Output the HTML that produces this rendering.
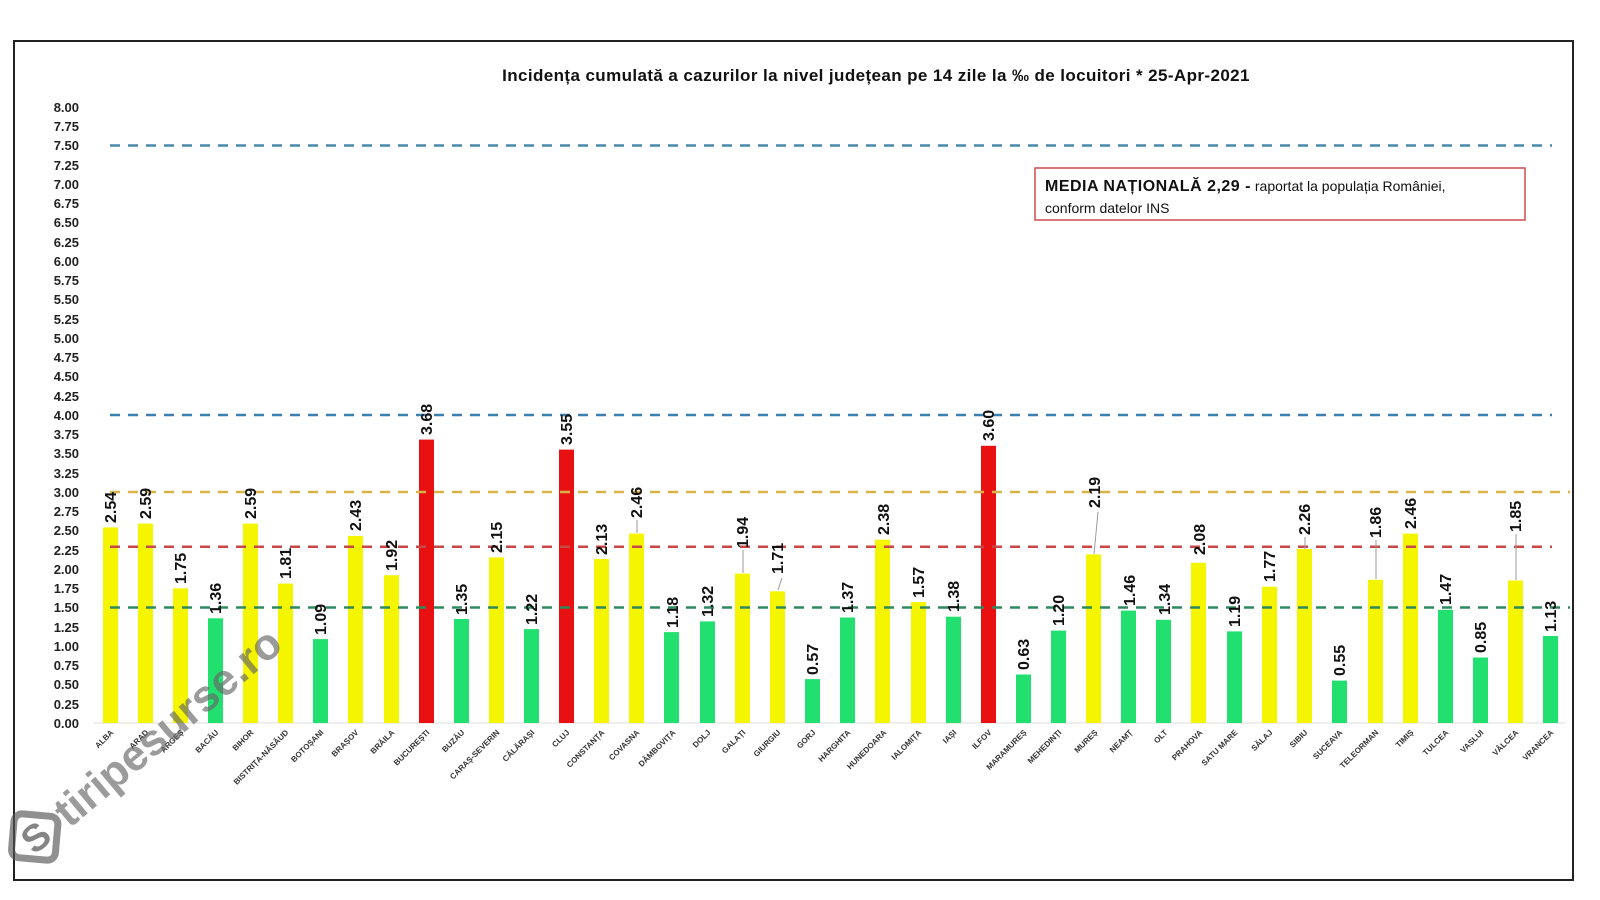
<!DOCTYPE html>
<html><head><meta charset="utf-8"><style>
html,body{margin:0;padding:0;background:#fff;}
svg{display:block;font-family:"Liberation Sans",sans-serif;}
.yl{font-size:13px;font-weight:bold;fill:#222;text-anchor:end}
.v{font-size:16px;font-weight:bold;fill:#111}
.c{font-size:8px;font-weight:bold;fill:#333;text-anchor:end}
</style></head><body>
<svg width="1600" height="900" viewBox="0 0 1600 900">
<rect x="14" y="41" width="1559" height="839" fill="#fff" stroke="#222" stroke-width="2"/>
<text x="876" y="81" font-size="17" font-weight="bold" text-anchor="middle" fill="#111" letter-spacing="0.4">Incidența cumulată a cazurilor la nivel județean pe 14 zile la ‰ de locuitori *   25-Apr-2021</text>
<g>
<text class="yl" x="79" y="112">8.00</text><text class="yl" x="79" y="131">7.75</text><text class="yl" x="79" y="150">7.50</text><text class="yl" x="79" y="170">7.25</text><text class="yl" x="79" y="189">7.00</text><text class="yl" x="79" y="208">6.75</text><text class="yl" x="79" y="227">6.50</text><text class="yl" x="79" y="247">6.25</text><text class="yl" x="79" y="266">6.00</text><text class="yl" x="79" y="285">5.75</text><text class="yl" x="79" y="304">5.50</text><text class="yl" x="79" y="324">5.25</text><text class="yl" x="79" y="343">5.00</text><text class="yl" x="79" y="362">4.75</text><text class="yl" x="79" y="381">4.50</text><text class="yl" x="79" y="401">4.25</text><text class="yl" x="79" y="420">4.00</text><text class="yl" x="79" y="439">3.75</text><text class="yl" x="79" y="458">3.50</text><text class="yl" x="79" y="478">3.25</text><text class="yl" x="79" y="497">3.00</text><text class="yl" x="79" y="516">2.75</text><text class="yl" x="79" y="535">2.50</text><text class="yl" x="79" y="555">2.25</text><text class="yl" x="79" y="574">2.00</text><text class="yl" x="79" y="593">1.75</text><text class="yl" x="79" y="612">1.50</text><text class="yl" x="79" y="632">1.25</text><text class="yl" x="79" y="651">1.00</text><text class="yl" x="79" y="670">0.75</text><text class="yl" x="79" y="689">0.50</text><text class="yl" x="79" y="709">0.25</text><text class="yl" x="79" y="728">0.00</text>
</g>
<line x1="94" y1="723" x2="1565" y2="723" stroke="#ddd" stroke-width="1"/>
<g fill="#f5f500">
<rect x="103" y="527.4" width="15" height="195.6"/><rect x="138" y="523.6" width="15" height="199.4"/><rect x="173" y="588.3" width="15" height="134.7"/>
<rect x="243" y="523.6" width="15" height="199.4"/><rect x="278" y="583.6" width="15" height="139.4"/><rect x="348" y="535.9" width="15" height="187.1"/>
<rect x="384" y="575.2" width="15" height="147.8"/><rect x="489" y="557.4" width="15" height="165.6"/><rect x="594" y="559" width="15" height="164"/>
<rect x="629" y="533.6" width="15" height="189.4"/><rect x="735" y="573.6" width="15" height="149.4"/><rect x="770" y="591.3" width="15" height="131.7"/>
<rect x="875" y="539.7" width="15" height="183.3"/><rect x="911" y="602.1" width="15" height="120.9"/><rect x="1086" y="554.4" width="15" height="168.6"/>
<rect x="1191" y="562.8" width="15" height="160.2"/><rect x="1262" y="586.7" width="15" height="136.3"/><rect x="1297" y="549" width="15" height="174"/>
<rect x="1368" y="579.8" width="15" height="143.2"/><rect x="1403" y="533.6" width="15" height="189.4"/><rect x="1508" y="580.5" width="15" height="142.5"/>
</g>
<g fill="#22e070">
<rect x="208" y="618.3" width="15" height="104.7"/><rect x="313" y="639.1" width="15" height="83.9"/><rect x="454" y="619" width="15" height="104"/>
<rect x="524" y="629.1" width="15" height="93.9"/><rect x="664" y="632.1" width="15" height="90.9"/><rect x="700" y="621.4" width="15" height="101.6"/>
<rect x="805" y="679.1" width="15" height="43.9"/><rect x="840" y="617.5" width="15" height="105.5"/><rect x="946" y="616.7" width="15" height="106.3"/>
<rect x="1016" y="674.5" width="15" height="48.5"/><rect x="1051" y="630.6" width="15" height="92.4"/><rect x="1121" y="610.6" width="15" height="112.4"/>
<rect x="1156" y="619.8" width="15" height="103.2"/><rect x="1227" y="631.4" width="15" height="91.6"/><rect x="1332" y="680.6" width="15" height="42.4"/>
<rect x="1438" y="609.8" width="15" height="113.2"/><rect x="1473" y="657.5" width="15" height="65.5"/><rect x="1543" y="636" width="15" height="87"/>
</g>
<g fill="#e81010">
<rect x="419" y="439.6" width="15" height="283.4"/><rect x="559" y="449.6" width="15" height="273.4"/><rect x="981" y="445.8" width="15" height="277.2"/>
</g>
<g stroke-width="2.5" stroke-dasharray="10,8" fill="none">
<line x1="110" y1="145.5" x2="1552" y2="145.5" stroke="#4a8aa8"/>
<line x1="110" y1="415" x2="1552" y2="415" stroke="#3a80b0"/>
<line x1="110" y1="492" x2="1570" y2="492" stroke="#d8b448"/>
<line x1="110" y1="546.7" x2="1552" y2="546.7" stroke="#c84848"/>
<line x1="110" y1="607.5" x2="1570" y2="607.5" stroke="#2e8a5e"/>
</g>
<g stroke="#999" stroke-width="1">
<line x1="637" y1="533" x2="637" y2="520"/><line x1="743" y1="573" x2="743" y2="550"/><line x1="778" y1="590" x2="782" y2="578"/>
<line x1="1094" y1="554" x2="1098" y2="512"/><line x1="1305" y1="549" x2="1305" y2="537"/><line x1="1376" y1="579" x2="1376" y2="540"/><line x1="1516" y1="580" x2="1516" y2="534"/>
</g>
<g class="v">
<text transform="translate(116,523) rotate(-90)">2.54</text>
<text transform="translate(151,519) rotate(-90)">2.59</text>
<text transform="translate(186,584) rotate(-90)">1.75</text>
<text transform="translate(221,614) rotate(-90)">1.36</text>
<text transform="translate(256,519) rotate(-90)">2.59</text>
<text transform="translate(291,579) rotate(-90)">1.81</text>
<text transform="translate(326,635) rotate(-90)">1.09</text>
<text transform="translate(361,531) rotate(-90)">2.43</text>
<text transform="translate(397,571) rotate(-90)">1.92</text>
<text transform="translate(432,435) rotate(-90)">3.68</text>
<text transform="translate(467,615) rotate(-90)">1.35</text>
<text transform="translate(502,553) rotate(-90)">2.15</text>
<text transform="translate(537,625) rotate(-90)">1.22</text>
<text transform="translate(572,445) rotate(-90)">3.55</text>
<text transform="translate(607,555) rotate(-90)">2.13</text>
<text transform="translate(642,518) rotate(-90)">2.46</text>
<text transform="translate(678,628) rotate(-90)">1.18</text>
<text transform="translate(713,617) rotate(-90)">1.32</text>
<text transform="translate(748,548) rotate(-90)">1.94</text>
<text transform="translate(783,574) rotate(-90)">1.71</text>
<text transform="translate(818,675) rotate(-90)">0.57</text>
<text transform="translate(853,613) rotate(-90)">1.37</text>
<text transform="translate(889,535) rotate(-90)">2.38</text>
<text transform="translate(924,598) rotate(-90)">1.57</text>
<text transform="translate(959,612) rotate(-90)">1.38</text>
<text transform="translate(994,441) rotate(-90)">3.60</text>
<text transform="translate(1029,670) rotate(-90)">0.63</text>
<text transform="translate(1064,626) rotate(-90)">1.20</text>
<text transform="translate(1100,508) rotate(-90)">2.19</text>
<text transform="translate(1135,606) rotate(-90)">1.46</text>
<text transform="translate(1170,615) rotate(-90)">1.34</text>
<text transform="translate(1205,555) rotate(-90)">2.08</text>
<text transform="translate(1240,627) rotate(-90)">1.19</text>
<text transform="translate(1275,582) rotate(-90)">1.77</text>
<text transform="translate(1310,535) rotate(-90)">2.26</text>
<text transform="translate(1345,676) rotate(-90)">0.55</text>
<text transform="translate(1381,538) rotate(-90)">1.86</text>
<text transform="translate(1416,529) rotate(-90)">2.46</text>
<text transform="translate(1451,605) rotate(-90)">1.47</text>
<text transform="translate(1486,653) rotate(-90)">0.85</text>
<text transform="translate(1521,532) rotate(-90)">1.85</text>
<text transform="translate(1556,632) rotate(-90)">1.13</text>
</g>
<g class="c">
<text transform="translate(114,733) rotate(-45)">ALBA</text>
<text transform="translate(149,733) rotate(-45)">ARAD</text>
<text transform="translate(184,733) rotate(-45)">ARGEȘ</text>
<text transform="translate(219,733) rotate(-45)">BACĂU</text>
<text transform="translate(254,733) rotate(-45)">BIHOR</text>
<text transform="translate(289,733) rotate(-45)">BISTRIȚA-NĂSĂUD</text>
<text transform="translate(324,733) rotate(-45)">BOTOȘANI</text>
<text transform="translate(359,733) rotate(-45)">BRAȘOV</text>
<text transform="translate(395,733) rotate(-45)">BRĂILA</text>
<text transform="translate(430,733) rotate(-45)">BUCUREȘTI</text>
<text transform="translate(465,733) rotate(-45)">BUZĂU</text>
<text transform="translate(500,733) rotate(-45)">CARAȘ-SEVERIN</text>
<text transform="translate(535,733) rotate(-45)">CĂLĂRAȘI</text>
<text transform="translate(570,733) rotate(-45)">CLUJ</text>
<text transform="translate(605,733) rotate(-45)">CONSTANȚA</text>
<text transform="translate(640,733) rotate(-45)">COVASNA</text>
<text transform="translate(676,733) rotate(-45)">DÂMBOVIȚA</text>
<text transform="translate(711,733) rotate(-45)">DOLJ</text>
<text transform="translate(746,733) rotate(-45)">GALAȚI</text>
<text transform="translate(781,733) rotate(-45)">GIURGIU</text>
<text transform="translate(816,733) rotate(-45)">GORJ</text>
<text transform="translate(851,733) rotate(-45)">HARGHITA</text>
<text transform="translate(887,733) rotate(-45)">HUNEDOARA</text>
<text transform="translate(922,733) rotate(-45)">IALOMIȚA</text>
<text transform="translate(957,733) rotate(-45)">IAȘI</text>
<text transform="translate(992,733) rotate(-45)">ILFOV</text>
<text transform="translate(1027,733) rotate(-45)">MARAMUREȘ</text>
<text transform="translate(1062,733) rotate(-45)">MEHEDINȚI</text>
<text transform="translate(1098,733) rotate(-45)">MUREȘ</text>
<text transform="translate(1133,733) rotate(-45)">NEAMȚ</text>
<text transform="translate(1168,733) rotate(-45)">OLT</text>
<text transform="translate(1203,733) rotate(-45)">PRAHOVA</text>
<text transform="translate(1238,733) rotate(-45)">SATU MARE</text>
<text transform="translate(1273,733) rotate(-45)">SĂLAJ</text>
<text transform="translate(1308,733) rotate(-45)">SIBIU</text>
<text transform="translate(1343,733) rotate(-45)">SUCEAVA</text>
<text transform="translate(1379,733) rotate(-45)">TELEORMAN</text>
<text transform="translate(1414,733) rotate(-45)">TIMIȘ</text>
<text transform="translate(1449,733) rotate(-45)">TULCEA</text>
<text transform="translate(1484,733) rotate(-45)">VASLUI</text>
<text transform="translate(1519,733) rotate(-45)">VÂLCEA</text>
<text transform="translate(1554,733) rotate(-45)">VRANCEA</text>
</g>
<rect x="1035" y="168" width="490" height="52" fill="#fff" stroke="#d04a4a" stroke-width="1.5"/>
<text x="1045" y="191" font-size="16" fill="#111"><tspan font-weight="bold" letter-spacing="0.5">MEDIA NAȚIONALĂ  2,29 -</tspan><tspan font-size="14"> raportat la populația României,</tspan></text>
<text x="1045" y="213" font-size="14" fill="#111">conform datelor INS</text>
<g transform="translate(32,868) rotate(-40)" opacity="0.65">
<rect x="0" y="-44" width="44" height="44" rx="8" fill="none" stroke="#555" stroke-width="7" transform="rotate(45 22 -22)"/>
<text x="10" y="-8" font-size="38" font-weight="bold" fill="#444">S</text>
<text x="54" y="-6" font-size="44" font-weight="bold" fill="#666">tiripesurse.ro</text>
</g>
</svg>
</body></html>
